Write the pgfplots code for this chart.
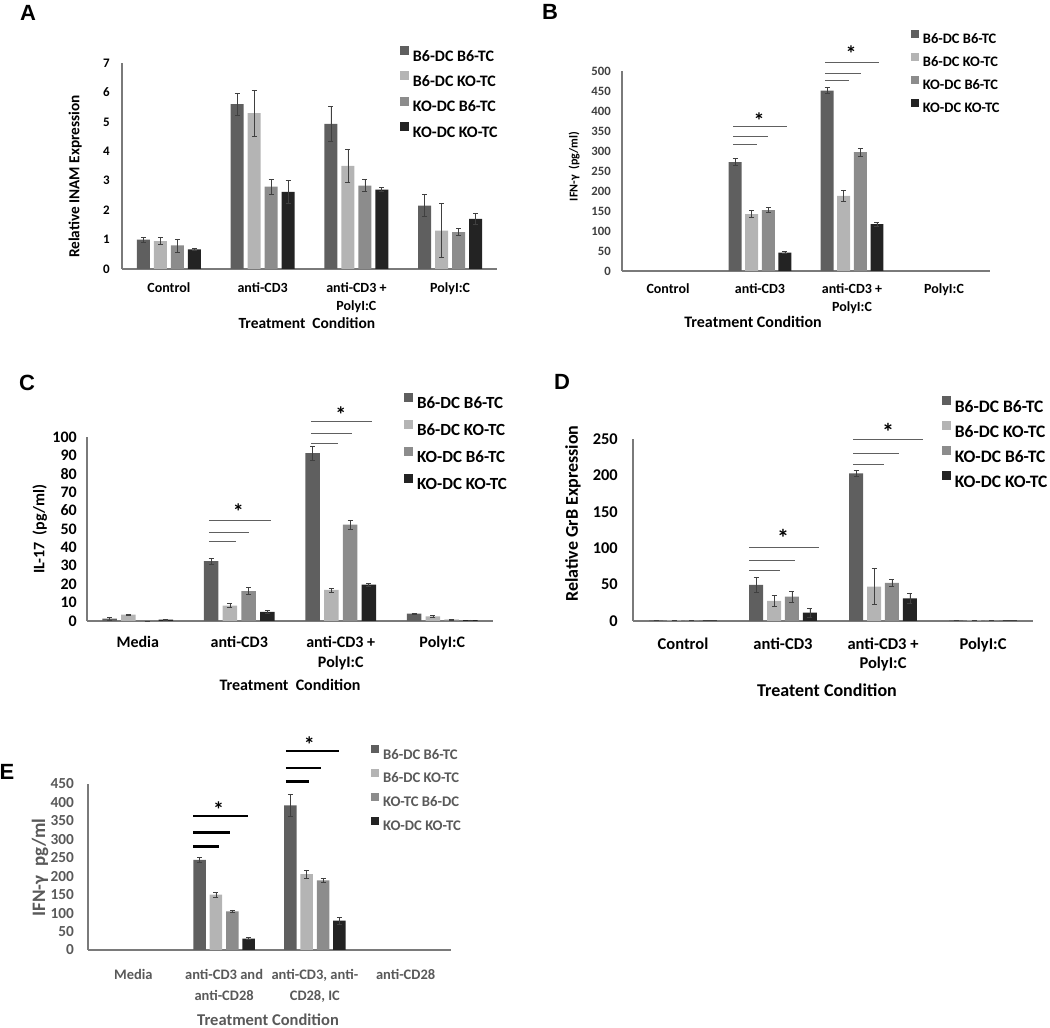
\documentclass[border=0pt]{standalone}
\usepackage{fontspec}
\setmainfont{Carlito}
\newfontfamily\arialfont{Liberation Sans}
\usepackage{pgfplots}
\usepackage{pgfplotstable}
\pgfplotsset{compat=1.18}

\definecolor{cA}{HTML}{5F5F5F}
\definecolor{cB}{HTML}{B4B4B4}
\definecolor{cC}{HTML}{8C8C8C}
\definecolor{cD}{HTML}{232323}
\definecolor{axc}{HTML}{7A7A7A}
\definecolor{errc}{HTML}{404040}
\definecolor{eg}{HTML}{595959}
\definecolor{sg}{HTML}{606060}

\pgfplotstableread{
x a ae b be c ce d de
0 1.00 0.08 0.95 0.12 0.80 0.22 0.67 0.02
1 5.60 0.37 5.30 0.78 2.80 0.25 2.62 0.38
2 4.93 0.58 3.50 0.55 2.83 0.20 2.70 0.07
3 2.15 0.37 1.30 0.92 1.25 0.12 1.70 0.18
}\tabA
\pgfplotstableread{
x a ae b be c ce d de
1 272 9 142 9 152 6 46 3
2 451 8 188 13 297 10 117 5
}\tabB
\pgfplotstableread{
x a ae b be c ce d de
0 1.3 0.9 3.4 0.4 0 0 0.7 0.2
1 32.5 1.6 8.3 1.1 16.3 2.0 4.9 0.7
2 91.3 3.8 16.9 1.1 52.4 2.4 19.8 0.7
3 4.0 0.3 2.5 0.3 0.7 0.1 0.5 0.1
}\tabC
\pgfplotstableread{
x a ae b be c ce d de
0 1 0 1 0 1 0 1 0
1 49.5 10 27.5 7.8 33.5 7.8 11.5 6
2 202.8 4.5 47.2 24.8 52.3 5 31.2 7.3
3 0.8 0 0.8 0 0.8 0 0.8 0
}\tabD
\pgfplotstableread{
x a ae b be c ce d de
1 244 7 150 6 105 3.6 31 2
2 392 31 206 11 189 5.4 79.5 9
}\tabE

\pgfplotsset{
 panel/.style={scale only axis, axis lines*=left, ymin=0, xmin=-0.5, xmax=3.5,
  enlargelimits=false, xtick={0,1,2,3}, major tick length=0pt,
  axis line style={draw=axc, line width=1.1pt}, clip=false,
  /pgf/number format/assume math mode=true,
  xticklabel style={align=center, inner sep=0pt, anchor=north},
  yticklabel style={inner sep=0pt, anchor=east},
  legend cell align=left,
  legend style={draw=none, fill=none, inner sep=0pt, outer sep=0pt, anchor=north west,
   /tikz/every odd column/.append style={column sep=4pt}}},
 ebar/.style={error bars/.cd, y dir=both, y explicit,
  error bar style={draw=errc, line width=0.7pt},
  error mark options={rotate=90, mark size=2.5pt, draw=errc, line width=0.7pt}},
 sqS/.style={legend image code/.code={\fill[##1] (0pt,0.5pt) rectangle (8pt,8.5pt);}},
 sqL/.style={legend image code/.code={\fill[##1] (0pt,0.8pt) rectangle (9pt,9.8pt);}},
}
\tikzset{
 sigthin/.style={draw=sg, line width=1pt},
 sigthick/.style={draw=black, line width=2.6pt},
 star/.style={font=\fontsize{22}{22}\selectfont\bfseries, inner sep=0pt, anchor=center, yshift=-3.5pt},
 plabel/.style={font=\arialfont\bfseries\fontsize{22}{22}\selectfont, inner sep=0pt, anchor=center},
}

\newcommand\fourbars[5]{%
\addplot[ybar, fill=cA, draw=none, bar width=#2, bar shift=0pt, #5, ebar] table[x expr=\thisrow{x}-#4, y=a, y error=ae]{#1};
\addplot[ybar, fill=cB, draw=none, bar width=#2, bar shift=0pt, #5, ebar] table[x expr=\thisrow{x}-#3, y=b, y error=be]{#1};
\addplot[ybar, fill=cC, draw=none, bar width=#2, bar shift=0pt, #5, ebar] table[x expr=\thisrow{x}+#3, y=c, y error=ce]{#1};
\addplot[ybar, fill=cD, draw=none, bar width=#2, bar shift=0pt, #5, ebar] table[x expr=\thisrow{x}+#4, y=d, y error=de]{#1};
}
\newcommand\siglines[8]{%
\draw[#1] (axis cs:#2,#6) -- (axis cs:#3,#6);
\draw[#1] (axis cs:#2,#7) -- (axis cs:#4,#7);
\draw[#1] (axis cs:#2,#8) -- (axis cs:#5,#8);
}

\begin{document}
\begin{tikzpicture}[x=1pt,y=1pt]
\path[use as bounding box] (0,0) rectangle (1050,1028);

% ---------------- A
\node[plabel] at (28,1015) {A};
\begin{axis}[panel, at={(122pt,759pt)}, anchor=south west, width=375pt, height=206pt,
 ymax=7, ytick={0,1,...,7},
 xticklabels={Control, anti-CD3, {anti-CD3 +\\PolyI:C}, PolyI:C},
 xticklabel style={font=\fontsize{14}{18}\selectfont\bfseries, yshift=-13.5pt},
 yticklabel style={font=\fontsize{13}{13}\selectfont\bfseries, xshift=-12pt},
 ylabel={Relative INAM Expression},
 ylabel style={at={(axis description cs:-0.125,0.449)}, anchor=center, font=\fontsize{15.3}{15.3}\selectfont\bfseries},
 xlabel={Treatment\ \ Condition},
 xlabel style={at={(axis description cs:0.493,-0.262)}, anchor=center, font=\fontsize{15.5}{15.5}\selectfont\bfseries},
 legend style={at={(axis description cs:0.7413,1.0825)}, font=\fontsize{16}{16}\selectfont\bfseries,
   nodes={inner sep=0pt, text height=11pt, text depth=0pt}, row sep=10pt},
]
\fourbars{\tabA}{0.139}{0.0905}{0.2715}{sqL}
\legend{B6-DC B6-TC, B6-DC KO-TC, KO-DC B6-TC, KO-DC KO-TC}
\end{axis}

% ---------------- B
\node[plabel] at (550,1016) {B};
\begin{axis}[panel, at={(622pt,757pt)}, anchor=south west, width=368pt, height=200pt,
 ymax=500, ytick={0,50,...,500},
 xticklabels={Control, anti-CD3, {anti-CD3 +\\PolyI:C}, PolyI:C},
 xticklabel style={font=\fontsize{14}{17.5}\selectfont\bfseries, yshift=-12.5pt},
 yticklabel style={font=\fontsize{12.7}{12.7}\selectfont\bfseries, text=errc, xshift=-11pt},
 ylabel={IFN-γ\ \ (pg/ml)},
 ylabel style={at={(axis description cs:-0.130,0.5225)}, anchor=center, font=\fontsize{12}{12}\selectfont\bfseries},
 xlabel={Treatment Condition},
 xlabel style={at={(axis description cs:0.356,-0.255)}, anchor=center, font=\fontsize{16}{16}\selectfont\bfseries},
 legend style={at={(axis description cs:0.785,1.2065)}, font=\fontsize{14.5}{14.5}\selectfont\bfseries,
   nodes={inner sep=0pt, text height=10pt, text depth=0pt}, row sep=9.7pt},
]
\fourbars{\tabB}{0.141}{0.0905}{0.2715}{sqS}
\legend{B6-DC B6-TC, B6-DC KO-TC, KO-DC B6-TC, KO-DC KO-TC}
\siglines{sigthin}{0.71}{0.97}{1.09}{1.29}{315}{336}{360}
\siglines{sigthin}{1.71}{1.97}{2.10}{2.29}{475}{494}{521}
\node[star] at (axis cs:0.99,385) {*};
\node[star] at (axis cs:1.99,551) {*};
\end{axis}

% ---------------- C
\node[plabel] at (27,645) {C};
\begin{axis}[panel, at={(87pt,407pt)}, anchor=south west, width=406pt, height=184pt,
 ymax=100, ytick={0,10,...,100},
 xticklabels={Media, anti-CD3, {anti-CD3 +\\PolyI:C}, PolyI:C},
 xticklabel style={font=\fontsize{16}{20}\selectfont\bfseries, yshift=-15pt},
 yticklabel style={font=\fontsize{16}{16}\selectfont\bfseries, xshift=-10pt},
 ylabel={IL-17\ \ (pg/ml)},
 ylabel style={at={(axis description cs:-0.116,0.5)}, anchor=center, font=\fontsize{16}{16}\selectfont\bfseries},
 xlabel={Treatment\ \ Condition},
 xlabel style={at={(axis description cs:0.5,-0.348)}, anchor=center, font=\fontsize{16}{16}\selectfont\bfseries},
 legend style={at={(axis description cs:0.781,1.240)}, font=\fontsize{17}{17}\selectfont\bfseries,
   nodes={inner sep=0pt, text height=11.5pt, text depth=0pt}, row sep=11.5pt},
]
\fourbars{\tabC}{0.143}{0.092}{0.276}{sqL}
\legend{B6-DC B6-TC, B6-DC KO-TC, KO-DC B6-TC, KO-DC KO-TC}
\siglines{sigthin}{0.70}{0.97}{1.10}{1.31}{43.4}{48.3}{54.8}
\siglines{sigthin}{1.71}{1.97}{2.11}{2.31}{96.7}{101.8}{108.3}
\node[star] at (axis cs:0.99,61.2) {*};
\node[star] at (axis cs:2.0,114.3) {*};
\end{axis}

% ---------------- D
\node[plabel] at (562,646) {D};
\begin{axis}[panel, at={(633pt,407pt)}, anchor=south west, width=400pt, height=182pt,
 ymax=250, ytick={0,50,...,250},
 xticklabels={Control, anti-CD3, {anti-CD3 +\\PolyI:C}, PolyI:C},
 xticklabel style={font=\fontsize{16.5}{19.5}\selectfont\bfseries, yshift=-16.5pt},
 yticklabel style={font=\fontsize{16.4}{16.4}\selectfont\bfseries, xshift=-15pt},
 ylabel={Relative GrB Expression},
 ylabel style={at={(axis description cs:-0.150,0.59)}, anchor=center, font=\fontsize{18}{18}\selectfont\bfseries},
 xlabel={Treatent Condition},
 xlabel style={at={(axis description cs:0.485,-0.379)}, anchor=center, font=\fontsize{18}{18}\selectfont\bfseries},
 legend style={at={(axis description cs:0.772,1.235)}, font=\fontsize{17.5}{17.5}\selectfont\bfseries,
   nodes={inner sep=0pt, text height=12pt, text depth=0pt}, row sep=9.2pt},
]
\fourbars{\tabD}{0.140}{0.0895}{0.2685}{sqL}
\legend{B6-DC B6-TC, B6-DC KO-TC, KO-DC B6-TC, KO-DC KO-TC}
\siglines{sigthin}{0.66}{0.97}{1.12}{1.36}{68.8}{83}{101.4}
\siglines{sigthin}{1.70}{2.01}{2.16}{2.40}{215}{229.8}{249}
\node[star, font=\fontsize{24}{24}\selectfont\bfseries] at (axis cs:1.0,118.3) {*};
\node[star, font=\fontsize{24}{24}\selectfont\bfseries] at (axis cs:2.05,265) {*};
\end{axis}

% ---------------- E
\node[plabel] at (7,256) {E};
\begin{axis}[panel, at={(88pt,78pt)}, anchor=south west, width=363pt, height=166pt,
 ymax=450, ytick={0,50,...,450},
 xticklabels={Media, {anti-CD3 and\\anti-CD28}, {anti-CD3, anti-\\CD28, IC}, anti-CD28},
 xticklabel style={font=\fontsize{14.5}{21}\selectfont\bfseries, text=eg, yshift=-19.5pt},
 yticklabel style={font=\fontsize{15.3}{15.3}\selectfont\bfseries, text=eg, xshift=-14pt},
 ylabel={IFN-γ\ \ pg/ml},
 ylabel style={at={(axis description cs:-0.132,0.497)}, anchor=center, text=eg, font=\fontsize{19}{19}\selectfont\bfseries},
 xlabel={Treatment Condition},
 xlabel style={at={(axis description cs:0.496,-0.42)}, anchor=center, text=eg, font=\fontsize{16.5}{16.5}\selectfont\bfseries},
 legend style={at={(axis description cs:0.78,1.2334)}, font=\fontsize{14.7}{14.7}\selectfont\bfseries, text=eg,
   nodes={inner sep=0pt, text height=10.5pt, text depth=0pt}, row sep=10.2pt},
]
\fourbars{\tabE}{0.138}{0.09}{0.27}{sqS}
\legend{B6-DC B6-TC, B6-DC KO-TC, KO-TC B6-DC, KO-DC KO-TC}
\siglines{sigthick}{0.66}{0.94}{1.07}{1.26}{280}{318}{363}
\siglines{sigthick}{1.68}{1.94}{2.07}{2.27}{456}{493}{539}
\node[star] at (axis cs:0.94,390) {*};
\node[star] at (axis cs:1.94,567) {*};
\end{axis}
\end{tikzpicture}
\end{document}
